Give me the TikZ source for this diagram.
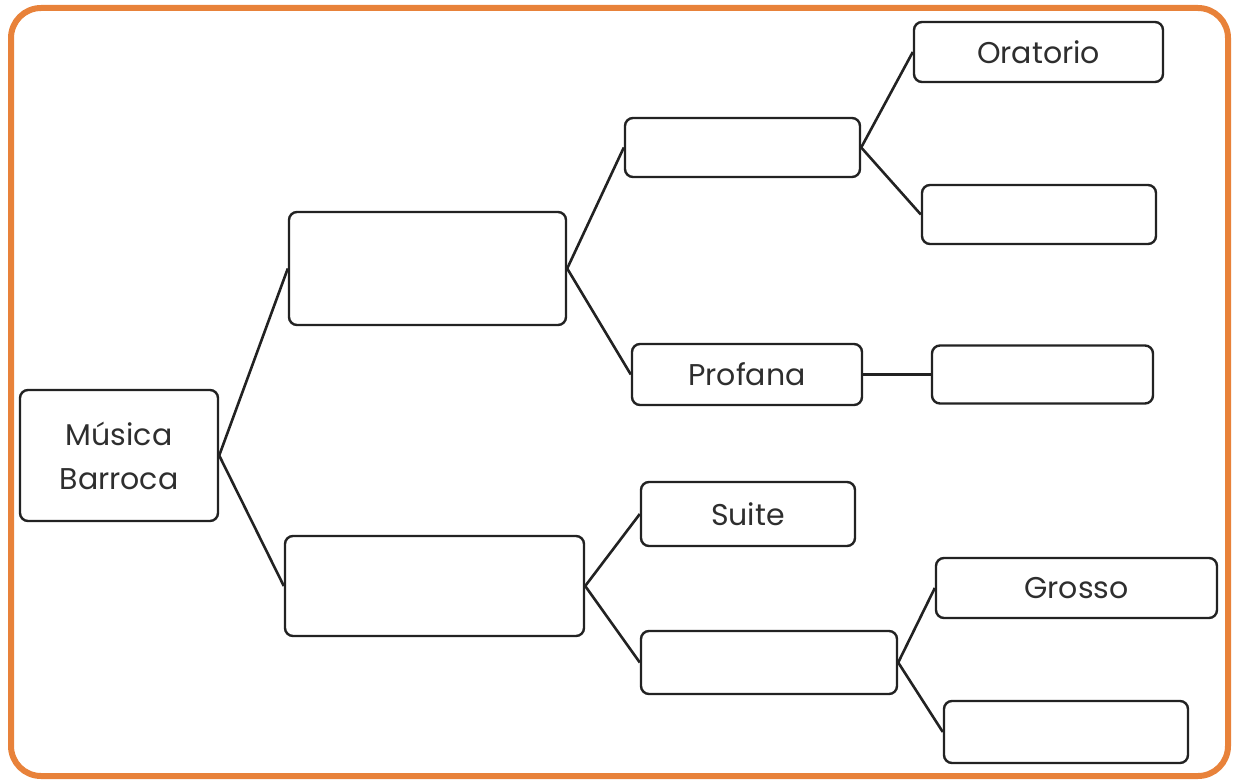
\documentclass[tikz,border=0pt]{standalone}
\usepackage{fontspec}
\setmainfont{Poppins}
\definecolor{frameorange}{HTML}{E8823A}
\definecolor{txt}{HTML}{2E2E2E}
\definecolor{edge}{HTML}{222222}
\begin{document}
\begin{tikzpicture}[x=1pt,y=-1pt,
  box/.style={draw=edge, line width=2.4pt, rounded corners=8pt, inner sep=0pt,
    text=txt, font=\fontsize{30}{44}\selectfont, align=center},
  link/.style={draw=edge, line width=2.6pt}]
\useasboundingbox (0,0) rectangle (1234,781);
\draw[frameorange, line width=6pt, rounded corners=30pt] (11,8) rectangle (1228,776);
\newcommand{\bx}[6]{\node[box, minimum width=#4pt, minimum height=#5pt] (#1) at (#2,#3) {#6};}
\bx{M}{119}{455.5}{198}{131}{Música\\Barroca}
\bx{A}{427.5}{268.5}{277}{113}{}
\bx{B}{434.5}{586}{299}{100}{}
\bx{C}{742.5}{147.5}{235}{59}{}
\bx{O}{1038.5}{52}{249}{60}{Oratorio}
\bx{D}{1039}{214.5}{234}{59}{}
\bx{P}{747}{374.5}{230}{61}{Profana}
\bx{E}{1042.5}{374.5}{221}{58}{}
\bx{S}{748}{514}{214}{64}{Suite}
\bx{F}{769}{662.5}{256}{63}{}
\bx{G}{1076.5}{588}{281}{60}{Grosso}
\bx{H}{1066}{732}{244}{62}{}
\draw[link] (A.west) -- (M.east) -- (B.west);
\draw[link] (C.west) -- (A.east) -- (P.west);
\draw[link] (O.west) -- (C.east) -- (D.west);
\draw[link] (P.east) -- (E.west);
\draw[link] (S.west) -- (B.east) -- (F.west);
\draw[link] (G.west) -- (F.east) -- (H.west);
\end{tikzpicture}
\end{document}
